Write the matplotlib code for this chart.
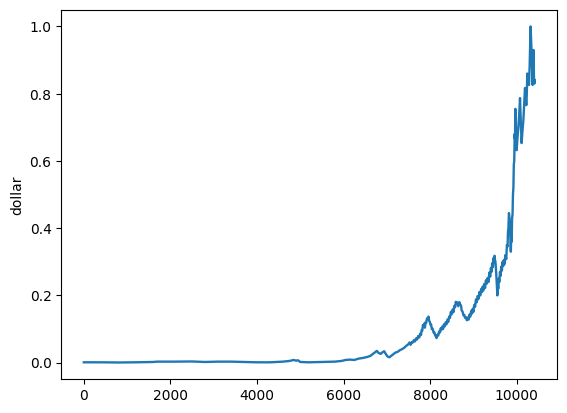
import matplotlib
matplotlib.use("Agg")
import matplotlib.pyplot as plt

day = [0, 400, 800, 1200, 1600, 1700, 2100, 2500, 2800, 3100, 3400, 3700, 4000, 4300,
       4600, 4750, 4850, 4900, 4950, 5000, 5200, 5500, 5800, 5950, 6050, 6150, 6250,
       6350, 6450, 6550, 6620, 6680, 6730, 6770, 6810, 6860, 6900, 6940, 6980, 7020,
       7060, 7100, 7150, 7200, 7250, 7300, 7350, 7400, 7450,
       7500, 7525, 7550, 7575, 7600, 7625, 7650, 7675, 7700, 7725, 7750, 7770, 7790,
       7805, 7820, 7835, 7850, 7865, 7880, 7895, 7910, 7930, 7950, 7965, 7980, 7995,
       8010, 8025, 8040, 8060, 8080, 8100, 8120, 8135, 8150, 8170, 8190, 8210, 8230,
       8245, 8260, 8280, 8300, 8320, 8340, 8360, 8380, 8400, 8420, 8440, 8460, 8480,
       8500, 8520, 8540, 8560, 8580, 8595, 8610, 8630, 8650, 8675, 8700, 8715, 8730,
       8750, 8770, 8790, 8810, 8830, 8850, 8870, 8890, 8910, 8930, 8950, 8970, 8985,
       9000, 9020, 9040, 9060, 9080, 9100, 9120, 9140, 9160, 9180, 9200, 9215, 9230,
       9250, 9270, 9290, 9310, 9330, 9350, 9370, 9390, 9405, 9420, 9435, 9450, 9465,
       9480, 9490, 9500, 9510, 9520, 9530, 9540, 9555, 9565, 9575, 9590, 9600, 9615,
       9630, 9645, 9660, 9675, 9690, 9705, 9720, 9740, 9760, 9775, 9790, 9800, 9810,
       9822, 9835, 9845, 9855, 9866, 9875, 9885, 9895, 9905, 9915, 9925, 9935, 9945,
       9955, 9962, 9970, 9976, 9990, 10000, 10020, 10040, 10060, 10078,
       10095, 10115, 10135, 10155, 10175, 10193, 10210, 10223, 10235, 10246, 10265,
       10285, 10300, 10315, 10322, 10335, 10345, 10358, 10368, 10380, 10390, 10400,
       10410, 10418]

dollar = [0.001, 0.001, 0.0005, 0.001, 0.002, 0.003, 0.003, 0.0035, 0.002, 0.003, 0.003,
          0.002, 0.001, 0.001, 0.003, 0.005, 0.008, 0.006, 0.007, 0.002, 0.001, 0.002,
          0.003, 0.005, 0.008, 0.009, 0.008, 0.012, 0.014, 0.017, 0.02, 0.026, 0.031,
          0.035, 0.029, 0.026, 0.031, 0.034, 0.025, 0.018, 0.016, 0.02, 0.025, 0.03,
          0.032, 0.037, 0.04, 0.044, 0.05,
          0.055, 0.06, 0.053, 0.061, 0.06, 0.067, 0.063, 0.072, 0.069, 0.079, 0.075,
          0.086, 0.082, 0.097, 0.095, 0.112, 0.11, 0.116, 0.104, 0.12, 0.118, 0.132,
          0.13, 0.137, 0.124, 0.121, 0.112, 0.113, 0.1, 0.101, 0.09, 0.09, 0.08, 0.082,
          0.073, 0.083, 0.081, 0.093, 0.09, 0.102, 0.097, 0.107, 0.1, 0.114, 0.108,
          0.12, 0.114, 0.128, 0.121, 0.137, 0.133, 0.151, 0.144, 0.158, 0.15, 0.169,
          0.165, 0.181, 0.175, 0.179, 0.168, 0.18, 0.172, 0.17, 0.155, 0.152, 0.141,
          0.142, 0.133, 0.135, 0.126, 0.134, 0.128, 0.143, 0.137, 0.154, 0.146, 0.16,
          0.151, 0.172, 0.166, 0.188, 0.18, 0.198, 0.19, 0.21, 0.2, 0.219, 0.21, 0.226,
          0.215, 0.234, 0.222, 0.245, 0.235, 0.252, 0.24, 0.268, 0.256, 0.281, 0.27,
          0.296, 0.284, 0.311, 0.298, 0.318, 0.305, 0.3, 0.282, 0.262, 0.236, 0.2,
          0.232, 0.22, 0.25, 0.24, 0.27, 0.258, 0.286, 0.274, 0.3, 0.288, 0.305, 0.293,
          0.32, 0.308, 0.35, 0.345, 0.39, 0.4, 0.445, 0.43, 0.41, 0.37, 0.33, 0.375,
          0.36, 0.43, 0.44, 0.5, 0.52, 0.59, 0.6, 0.68, 0.665, 0.755, 0.73,
          0.68, 0.632, 0.67, 0.7, 0.74, 0.787, 0.72, 0.653, 0.69, 0.72, 0.77, 0.817,
          0.79, 0.766, 0.8, 0.86, 0.84, 0.826, 0.88, 0.97, 1.0, 0.96, 0.925, 0.87,
          0.826, 0.9, 0.93, 0.85, 0.83, 0.84]

fig, ax = plt.subplots(figsize=(6.4, 4.8), dpi=100)
ax.plot(day, dollar, color="#1f77b4", linewidth=1.7)
ax.set_ylabel("dollar")
fig.savefig("out.png", bbox_inches="tight")
